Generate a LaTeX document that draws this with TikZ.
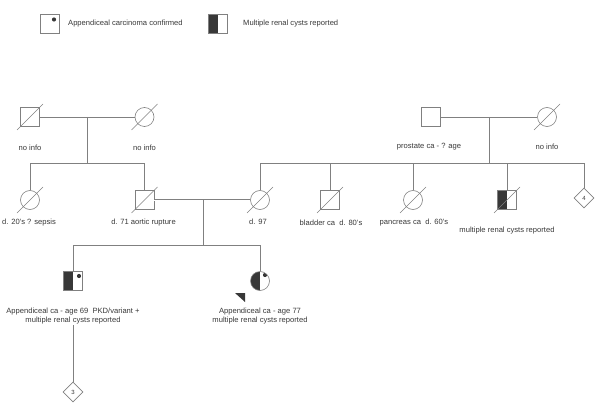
\documentclass[tikz,border=0pt]{standalone}
\usepackage{fontspec}
\setmainfont{Liberation Sans}
\usetikzlibrary{shapes.geometric}

\definecolor{dunkel}{gray}{0.22}
\definecolor{strich}{gray}{0.5}

\begin{document}
\begin{tikzpicture}[x=1pt,y=-1pt,
    font=\fontsize{7.6}{8.8}\selectfont,
    text=black!78
    ]
    \useasboundingbox (0,0) rectangle (600,409);

    \tikzset{
        linie/.style={draw=strich,line width=0.55pt}, % Verbindungen
        person/.style={draw=strich,line width=0.6pt,minimum size=19pt,inner sep=0pt},
        mann/.style={person,rectangle},
        frau/.style={person,circle},
        unbekannt/.style={person,diamond,minimum size=20pt,
            font=\fontsize{6}{6}\selectfont},
        zyste/.style={path picture={\fill[dunkel] (path picture bounding box.south west)
            rectangle (path picture bounding box.north);}},
        befund/.style={path picture={\fill[dunkel]
            ([shift={(#1)}]path picture bounding box.center) circle (2.1pt);}},
        beides/.style={path picture={\fill[dunkel] (path picture bounding box.south west)
            rectangle (path picture bounding box.north);
            \fill[dunkel] ([shift={(#1)}]path picture bounding box.center) circle (2.1pt);}},
        info/.style={inner sep=1pt,align=center}
    }

    % Legende
    \node[mann,befund={4,-4.5}] (leg1) at (50,24) {};
    \node[info,anchor=west] (legt1) at (67,24) {Appendiceal carcinoma confirmed};
    \node[mann,zyste] (leg2) at (218,24) {};
    \node[info,anchor=west] (legt2) at (242,24) {Multiple renal cysts reported};

    % Generation I
    \node[mann] (gv1) at (30,117) {};
    \node[frau] (gm1) at (144.5,117) {};
    \node[mann] (gv2) at (431,117) {};
    \node[frau] (gm2) at (547,117) {};

    % Generation II
    \node[frau] (t1) at (30,200) {};
    \node[mann] (v) at (144.5,200) {};
    \node[frau] (m) at (260,200) {};
    \node[mann] (o1) at (330,200) {};
    \node[frau] (t2) at (413,200) {};
    \node[mann,zyste] (o2) at (507,200) {};
    \node[unbekannt] (u4) at (584,198) {4};

    % Generation III
    \node[mann,beides={6,-5}] (s) at (73,281) {};
    \node[frau,beides={5,-6}] (p) at (260,281) {};
    \node[unbekannt] (u3) at (73,392) {3};

    % Hilfspunkte
    \coordinate (ehe1) at (87,117);
    \coordinate (k1) at (87,163);
    \coordinate (ehe2) at (489,117);
    \coordinate (k2) at (489,163);
    \coordinate (ehe3) at (203,200);
    \coordinate (k3) at (203,245);

    % Linien
    \draw[linie] (gv1) -- (gm1)
                 (ehe1) -- (k1)
                 (t1.north) -- (t1 |- k1) -- (v |- k1) -- (v.north);
    \draw[linie] (gv2) -- (gm2)
                 (ehe2) -- (k2)
                 (m.north) -- (m |- k2) -- (u4 |- k2) -- (u4.north);
    \foreach \n in {o1,t2,o2}
        \draw[linie] (\n.north) -- (\n |- k2);
    \draw[linie,double=white,double distance=1pt] (v) -- (m);
    \draw[linie] (ehe3) -- (k3)
                 (s.north) -- (s |- k3) -- (p |- k3) -- (p.north);

    % verstorben
    \foreach \n in {gv1,gm1,gm2,t1,v,m,o1,t2,o2}
        \draw[linie] ([shift={(-13,13)}]\n.center) -- ([shift={(13,-13)}]\n.center);

    % Beschriftung
    \node[info] (lgv1) at (30,148) {no info};
    \node[info] (lgm1) at (144.5,148) {no info};
    \node[info] (lgv2) at (429,147) {prostate ca - ? age};
    \node[info] (lgm2) at (547,147) {no info};
    \node[info] (lt1) at (29,223) {d. 20's ? sepsis};
    \node[info] (lv) at (143.5,223) {d. 71 aortic rupture};
    \node[info] (lm) at (258,222) {d. 97};
    \node[info] (lo1) at (331,223) {bladder ca\ \ d. 80's};
    \node[info] (lt2) at (414,223) {pancreas ca\ \ d. 60's};
    \node[info] (lo2) at (507,231) {multiple renal cysts reported};
    \node[info] (ls) at (73,316) {Appendiceal ca - age 69\ \ PKD/variant +\\multiple renal cysts reported};
    \node[info] (lp) at (260,316) {Appendiceal ca - age 77\\multiple renal cysts reported};
    \draw[linie] (ls.south) -- (u3.north);

    % Proband
    \fill[dunkel] (235,293) -- (245,293) -- (245,302) -- cycle;
\end{tikzpicture}
\end{document}
